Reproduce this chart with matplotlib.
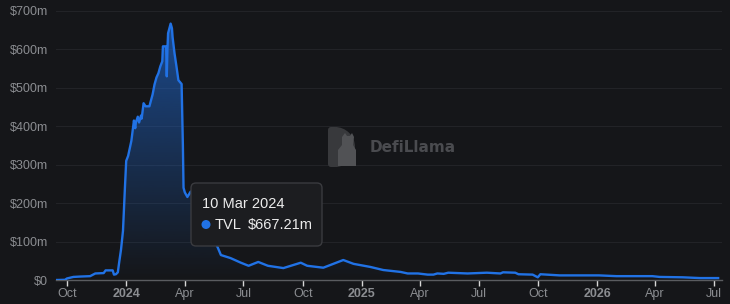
import numpy as np
import pandas as pd
import matplotlib
matplotlib.use("Agg")
import matplotlib.pyplot as plt
import matplotlib.dates as mdates
from matplotlib.patches import FancyBboxPatch, Polygon, Wedge, Rectangle, Circle

# TVL readings (in $m)
dates = [
    "2023-09-14", "2023-09-28", "2023-10-01", "2023-10-06", "2023-10-11", "2023-10-22",
    "2023-11-06", "2023-11-14", "2023-11-27", "2023-11-30", "2023-12-11", "2023-12-13",
    "2023-12-16", "2023-12-19", "2023-12-21", "2023-12-24", "2023-12-27", "2023-12-30",
    "2024-01-01", "2024-01-04", "2024-01-09", "2024-01-13", "2024-01-15", "2024-01-16",
    "2024-01-19", "2024-01-21", "2024-01-24", "2024-01-25", "2024-01-28", "2024-01-31",
    "2024-02-06", "2024-02-11", "2024-02-14", "2024-02-17", "2024-02-20", "2024-02-23",
    "2024-02-26", "2024-02-27", "2024-03-03", "2024-03-04", "2024-03-05", "2024-03-06",
    "2024-03-10", "2024-03-12", "2024-03-13", "2024-03-16", "2024-03-19", "2024-03-22",
    "2024-03-25", "2024-03-27", "2024-03-29", "2024-03-30", "2024-04-01", "2024-04-05",
    "2024-04-10", "2024-04-18", "2024-04-26", "2024-05-03", "2024-05-11", "2024-05-19",
    "2024-05-22", "2024-05-27", "2024-06-11", "2024-06-27", "2024-07-09", "2024-07-24",
    "2024-08-08", "2024-09-01", "2024-09-28", "2024-10-08", "2024-11-02", "2024-12-03",
    "2024-12-19", "2025-01-14", "2025-02-03", "2025-03-02", "2025-03-13", "2025-03-29",
    "2025-04-13", "2025-04-22", "2025-04-28", "2025-05-08", "2025-05-15", "2025-06-14",
    "2025-07-14", "2025-08-04", "2025-08-08", "2025-08-27", "2025-09-01", "2025-09-23",
    "2025-10-01", "2025-10-05", "2025-11-04", "2026-01-04", "2026-01-31", "2026-03-28",
    "2026-04-08", "2026-05-14", "2026-06-10", "2026-07-08",
]
tvl = [
    0, 0.5, 4, 6, 8, 9,
    10, 17, 18, 25, 25, 14,
    15, 20, 45, 80, 128, 240,
    310, 323, 362, 415, 395, 410,
    425, 410, 428, 420, 460, 452,
    452, 483, 509, 527, 538, 556,
    569, 608, 608, 530, 600, 642,
    667.21, 655, 632, 590, 556, 520,
    514, 510, 350, 240, 228, 216,
    230, 205, 190, 165, 135, 95,
    85, 65, 57, 45, 37, 47,
    37, 31, 45, 37, 32, 52,
    42, 34, 26, 21, 17, 17,
    14, 14, 17, 16, 19, 17,
    19, 17, 20, 19, 15, 14,
    7, 15, 12, 12, 10, 10,
    8, 7, 5, 5,
]

y_ticks = [0, 100, 200, 300, 400, 500, 600, 700]
y_labels = ["$0", "$100m", "$200m", "$300m", "$400m", "$500m", "$600m", "$700m"]
x_ticks = ["2023-10-01", "2024-01-01", "2024-04-01", "2024-07-01", "2024-10-01", "2025-01-01",
           "2025-04-01", "2025-07-01", "2025-10-01", "2026-01-01", "2026-04-01", "2026-07-01"]
x_labels = ["Oct", "2024", "Apr", "Jul", "Oct", "2025", "Apr", "Jul", "Oct", "2026", "Apr", "Jul"]

BG = "#151619"
BLUE = "#2172e5"
FONT = "Liberation Sans"

x = mdates.date2num(pd.to_datetime(dates))
y = np.array(tvl)

W, H = 730, 304
fig = plt.figure(figsize=(W / 100, H / 100), dpi=100, facecolor=BG)
ax = fig.add_axes([56 / W, (H - 280) / H, (722 - 56) / W, (280 - 11) / H])
ax.set_facecolor(BG)

xmin = mdates.date2num(pd.Timestamp("2023-09-14"))
xmax = mdates.date2num(pd.Timestamp("2026-07-14"))
ax.set_xlim(xmin, xmax)
ax.set_ylim(0, 700)

# gradient fill under the line
grad = np.zeros((256, 1, 4))
grad[:, 0, :3] = matplotlib.colors.to_rgb(BLUE)
grad[:, 0, 3] = np.linspace(0.0, 0.6, 256)
im = ax.imshow(grad, extent=[xmin, xmax, 0, 700], origin="lower", aspect="auto", zorder=1)
poly = Polygon(np.column_stack([np.r_[x[0], x, x[-1]], np.r_[0, y, 0]]), closed=True,
               facecolor="none", edgecolor="none")
ax.add_patch(poly)
im.set_clip_path(poly)

ax.plot(x, y, color=BLUE, lw=1.7, zorder=3, solid_joinstyle="round")

for t in y_ticks[1:]:
    ax.axhline(t, color="#222327", lw=0.8, zorder=0)

ax.set_yticks(y_ticks)
ax.set_yticklabels(y_labels)
ax.set_xticks(mdates.date2num(pd.to_datetime(x_ticks)))
ax.set_xticklabels(x_labels)
ax.tick_params(axis="y", length=0, pad=6, labelcolor="#8b8d91", labelsize=9)
ax.tick_params(axis="x", length=4, width=1, color="#d8d8d8", pad=2, labelcolor="#8b8d91", labelsize=9)
for lab in ax.get_xticklabels() + ax.get_yticklabels():
    lab.set_fontfamily(FONT)
for lab in ax.get_xticklabels():
    if lab.get_text().isdigit():
        lab.set_fontweight("bold")

for s in ["top", "right", "left"]:
    ax.spines[s].set_visible(False)
ax.spines["bottom"].set_color("#5a5c60")
ax.spines["bottom"].set_linewidth(1)

# overlay in pixel coordinates for watermark and tooltip
ov = fig.add_axes([0, 0, 1, 1], facecolor="none")
ov.set_xlim(0, W)
ov.set_ylim(H, 0)
ov.axis("off")

# DefiLlama watermark
ov.add_patch(FancyBboxPatch((328, 127), 10, 40, boxstyle="round,pad=0,rounding_size=3",
                            facecolor="#38393c", edgecolor="none"))
ov.add_patch(Wedge((335, 147), 20, -90, 90, facecolor="#38393c", edgecolor="none"))
ov.add_patch(Polygon([(338, 166), (338, 150), (342, 145), (342, 137), (345, 133), (347, 136),
                      (350, 136), (352, 133), (354, 137), (353, 145), (356, 150), (356, 166)],
                     closed=True, facecolor="#515255", edgecolor="none"))
ov.text(370, 148, "DefiLlama", color="#4a4b4f", fontsize=11, fontweight="bold",
        family="DejaVu Sans", va="center", ha="left")

# tooltip
ov.add_patch(FancyBboxPatch((191, 183), 131, 63, boxstyle="round,pad=0,rounding_size=5",
                            facecolor="#1c1d20", edgecolor="#3a3b3f", lw=1, zorder=5))
ov.text(202, 204, "10 Mar 2024", color="#ececec", fontsize=10.5, family=FONT,
        va="center", ha="left", zorder=6)
ov.add_patch(Circle((206, 224.5), 4.5, facecolor=BLUE, edgecolor="none", zorder=6))
ov.text(215, 225, "TVL", color="#ececec", fontsize=10.5, family=FONT,
        va="center", ha="left", zorder=6)
ov.text(248, 225, "$667.21m", color="#ececec", fontsize=10.5, family=FONT,
        va="center", ha="left", zorder=6)

fig.savefig("out.png", dpi=100, facecolor=BG)
